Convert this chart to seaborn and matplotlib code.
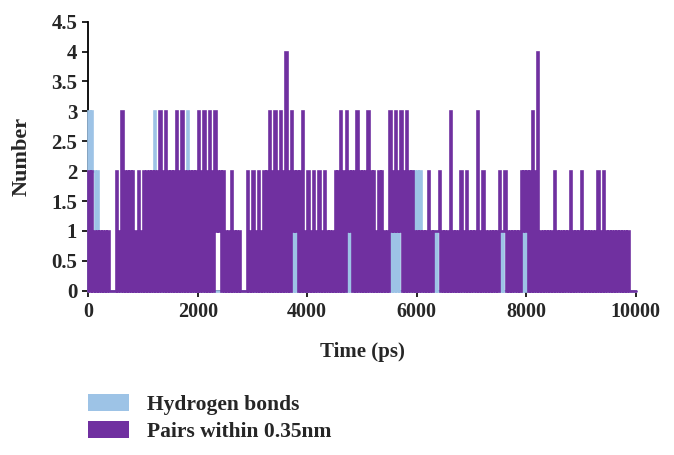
import pandas as pd
import seaborn as sns
import matplotlib.pyplot as plt
from matplotlib.patches import Patch

# Values, one entry per 100 ps bin:
# peak = highest count in the bin, base = usual upper level, low = lowest count
bin_ps = 100
pairs_peak = [
    2, 1, 1, 1, 0, 2, 3, 2, 2, 2,
    2, 2, 2, 3, 3, 2, 3, 3, 2, 2,
    3, 3, 3, 3, 2, 1, 2, 1, 0, 2,
    2, 2, 2, 3, 3, 3, 4, 3, 2, 3,
    2, 2, 2, 2, 1, 2, 3, 3, 2, 3,
    2, 3, 2, 2, 1, 3, 3, 3, 3, 2,
    1, 1, 2, 1, 2, 1, 3, 1, 2, 2,
    1, 3, 2, 1, 1, 2, 2, 1, 1, 2,
    2, 3, 4, 1, 1, 2, 1, 1, 2, 1,
    2, 1, 1, 2, 2, 1, 1, 1, 1, 0,
]
pairs_base = [
    2, 1, 1, 1, 0, 1, 2, 2, 1, 1,
    2, 2, 2, 2, 2, 2, 2, 2, 2, 2,
    2, 2, 2, 2, 2, 1, 1, 1, 0, 1,
    1, 1, 2, 2, 2, 2, 2, 2, 2, 1,
    1, 1, 1, 1, 1, 2, 2, 2, 2, 2,
    2, 2, 1, 2, 1, 2, 2, 2, 2, 1,
    1, 1, 1, 1, 1, 1, 1, 1, 1, 1,
    1, 1, 1, 1, 1, 1, 1, 1, 1, 2,
    2, 2, 1, 1, 1, 1, 1, 1, 1, 1,
    1, 1, 1, 1, 1, 1, 1, 1, 1, 0,
]
pairs_low = [
    0, 0, 0, 0, 0, 0, 0, 0, 0, 0,
    0, 0, 0, 0, 0, 0, 0, 0, 0, 0,
    0, 0, 0, 1, 0, 0, 0, 0, 0, 0,
    0, 0, 0, 0, 0, 0, 0, 1, 0, 0,
    0, 0, 0, 0, 0, 0, 0, 1, 0, 0,
    0, 0, 0, 0, 0, 1, 1, 0, 0, 0,
    0, 0, 0, 1, 0, 0, 0, 0, 0, 0,
    0, 0, 0, 0, 0, 1, 0, 0, 0, 1,
    0, 0, 0, 0, 0, 0, 0, 0, 0, 0,
    0, 0, 0, 0, 0, 0, 0, 0, 0, 0,
]
hbond_peak = [
    3, 2, 0, 0, 0, 0, 0, 0, 0, 0,
    0, 0, 3, 0, 0, 0, 0, 0, 3, 0,
    0, 0, 0, 0, 0, 0, 0, 0, 0, 0,
    0, 0, 0, 0, 0, 0, 0, 1, 1, 0,
    0, 0, 0, 0, 0, 0, 0, 1, 0, 0,
    0, 0, 0, 0, 0, 1, 1, 0, 0, 2,
    2, 0, 0, 1, 0, 0, 0, 0, 0, 0,
    0, 0, 0, 0, 0, 1, 0, 0, 0, 1,
    1, 0, 0, 0, 0, 0, 0, 0, 0, 0,
    0, 0, 0, 0, 0, 0, 0, 0, 0, 0,
]
hbond_base = [3, 2, 0, 0, 0, 0, 0, 0, 0, 0,
              0, 0, 0, 0, 0, 0, 0, 0, 0, 0] + hbond_peak[20:]
hbond_low = [2] + [0] * 99

x_ticks = [0, 2000, 4000, 6000, 8000, 10000]
y_ticks = [0, 0.5, 1, 1.5, 2, 2.5, 3, 3.5, 4, 4.5]
y_tick_labels = ['0', '0.5', '1', '1.5', '2', '2.5', '3', '3.5', '4', '4.5']

series_names = ['Hydrogen bonds', 'Pairs within 0.35nm']
colors = ['#9DC3E6', '#7030A0']


# lay the per-bin values out as a time series: peak, low, base, low (25 ps apart)
def to_frame(peak, base, low, name):
    t = [0]
    v = [0]
    q = bin_ps / 4
    for i in range(len(peak)):
        t += [i * bin_ps, i * bin_ps + q, i * bin_ps + 2 * q, i * bin_ps + 3 * q]
        v += [peak[i], low[i], base[i], low[i]]
    t.append(10000)
    v.append(0)
    return pd.DataFrame({'time': t, 'number': v, 'series': name})


df = pd.concat([to_frame(hbond_peak, hbond_base, hbond_low, series_names[0]),
                to_frame(pairs_peak, pairs_base, pairs_low, series_names[1])], ignore_index=True)

sns.set_style('ticks')
plt.rcParams['font.family'] = ['Liberation Serif', 'DejaVu Serif']
plt.rcParams['font.weight'] = 'bold'
font_size = 15

fig = plt.figure(figsize=(6.74, 4.55), dpi=100)
ax = fig.add_axes([88.3 / 674, 1 - 290.7 / 455, 547.3 / 674, 269 / 455])

for name, color in zip(series_names, colors):
    sns.lineplot(data=df[df['series'] == name], x='time', y='number', color=color,
                 estimator=None, sort=False, drawstyle='steps-post', linewidth=1.9,
                 solid_joinstyle='miter', clip_on=False, zorder=3, ax=ax, legend=False)

ax.set_xlim(0, 10000)
ax.set_ylim(0, 4.5)
ax.set_xticks(x_ticks)
ax.set_xticklabels([str(x) for x in x_ticks], fontsize=14.5, fontweight='bold')
ax.set_yticks(y_ticks)
ax.set_yticklabels(y_tick_labels, fontsize=font_size, fontweight='bold')
ax.tick_params(direction='out', length=4, width=1.2, color='black', pad=4)
ax.set_xlabel('')
ax.set_ylabel('')
sns.despine(ax=ax)
for side in ['left', 'bottom']:
    ax.spines[side].set_color('black')
    ax.spines[side].set_linewidth(1.3)

fig.text(362 / 674, 1 - 352 / 455, 'Time (ps)', ha='center', va='center',
         fontsize=font_size, fontweight='bold')
fig.text(22 / 674, 1 - 156 / 455, 'Number', ha='center', va='center', rotation=90,
         fontsize=font_size + 1, fontweight='bold')

handles = [Patch(facecolor=c, edgecolor='none') for c in colors]
fig.legend(handles, series_names, loc='upper left', bbox_to_anchor=(88 / 674, 1 - 394 / 455),
           frameon=False, borderpad=0, borderaxespad=0, handlelength=1.92, handleheight=0.82,
           labelspacing=0.3, handletextpad=0.8, prop={'size': font_size + 0.5, 'weight': 'bold'})

fig.savefig('out.png', dpi=100)
